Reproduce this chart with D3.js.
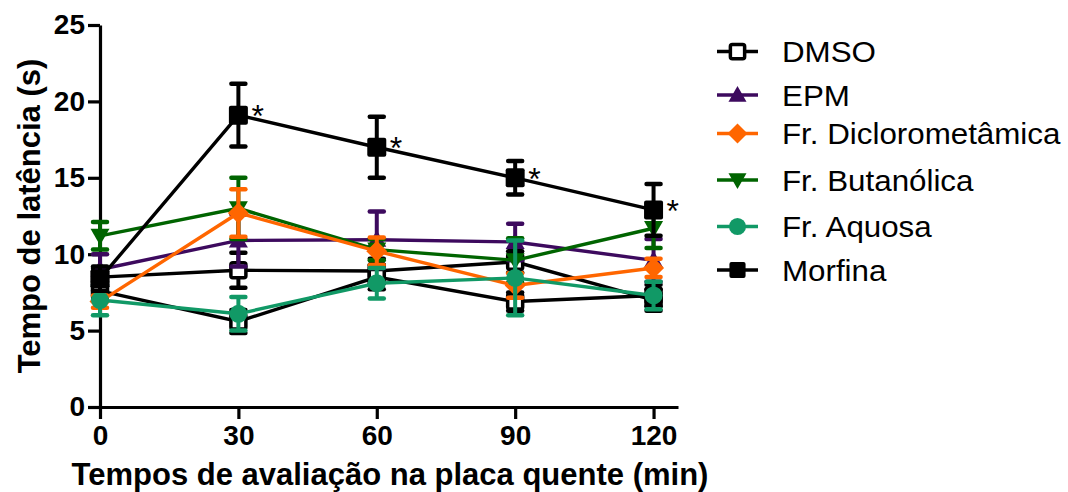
<!DOCTYPE html>
<html>
<head>
<meta charset="utf-8">
<script src="https://cdn.jsdelivr.net/npm/d3@7"></script>
<style>
  html, body { margin: 0; padding: 0; background: #fff; }
  svg { display: block; }
  text { font-family: Arial, "Liberation Sans", sans-serif; }
</style>
</head>
<body>
<svg id="chart" width="1068" height="492"></svg>
<script>
// ---- data ----
const times = [0, 30, 60, 90, 120];
const xTickLabels = ["0", "30", "60", "90", "120"];
const yTicks = [0, 5, 10, 15, 20, 25];

const seriesNames = ["DMSO", "EPM", "Fr. Diclorometâmica", "Fr. Butanólica", "Fr. Aquosa", "Morfina"];

const dmsoMean = [8.5, 8.95, 8.9, 9.5, 7.0];
const dmsoErr  = [0.6, 1.15, 0.8, 0.7, 0.7];

const extraMean = [7.6, 5.6, 8.5, 6.9, 7.3];   // unlabelled black series
const extraErr  = [0.6, 0.75, 0.8, 0.6, 0.7];

const epmMean = [9.0, 10.9, 10.95, 10.8, 9.6];
const epmErr  = [1.0, 1.7, 1.85, 1.2, 1.4];

const dicloMean = [6.9, 12.7, 10.2, 7.95, 9.1];
const dicloErr  = [0.4, 1.55, 0.9, 0.8, 0.6];

const butaMean = [11.2, 13.0, 10.3, 9.6, 11.7];
const butaErr  = [0.9, 2.0, 0.7, 1.45, 1.3];

const aquosaMean = [7.0, 6.1, 8.1, 8.45, 7.3];
const aquosaErr  = [1.0, 1.1, 1.0, 2.45, 0.9];

const morfMean = [8.4, 19.1, 17.0, 15.0, 12.9];
const morfErr  = [0.8, 2.05, 2.0, 1.1, 1.7];
const morfSig  = [false, true, true, true, true];

const colors = {
  black: "#000000",
  purple: "#3d0a5e",
  orange: "#ff6600",
  green: "#006400",
  teal: "#119966"
};

// draw order (back to front)
const series = [
  { name: "DMSO", mean: dmsoMean, err: dmsoErr, color: colors.black, marker: "openSquare", legend: true },
  { name: null, mean: extraMean, err: extraErr, color: colors.black, marker: "openSquare", legend: false },
  { name: "EPM", mean: epmMean, err: epmErr, color: colors.purple, marker: "triUp", legend: true },
  { name: "Fr. Butanólica", mean: butaMean, err: butaErr, color: colors.green, marker: "triDown", legend: true },
  { name: "Fr. Diclorometâmica", mean: dicloMean, err: dicloErr, color: colors.orange, marker: "diamond", legend: true },
  { name: "Fr. Aquosa", mean: aquosaMean, err: aquosaErr, color: colors.teal, marker: "circle", legend: true },
  { name: "Morfina", mean: morfMean, err: morfErr, color: colors.black, marker: "square", legend: true }
];

const svg = d3.select("#chart");

const x = d3.scaleLinear().domain([0, 125.3]).range([100, 678]);
const y = d3.scaleLinear().domain([0, 25]).range([407, 25]);

// ---- axes ----
const yAxis = d3.axisLeft(y).tickValues(yTicks).tickSize(12).tickSizeOuter(0).tickPadding(3);
const gy = svg.append("g").attr("transform", "translate(100,0)").call(yAxis);
gy.select(".domain").attr("stroke", "#000").attr("stroke-width", 3.2);
gy.selectAll(".tick line").attr("stroke", "#000").attr("stroke-width", 3.2);
gy.selectAll(".tick text").attr("fill", "#000").attr("font-size", 28).attr("font-weight", "bold")
  .attr("font-family", "Arial, 'Liberation Sans', sans-serif");

const xAxis = d3.axisBottom(x).tickValues(times).tickFormat((d, i) => xTickLabels[i]).tickSize(12).tickSizeOuter(0).tickPadding(6);
const gx = svg.append("g").attr("transform", "translate(0,407)").call(xAxis);
gx.select(".domain").attr("stroke", "#000").attr("stroke-width", 3.2);
gx.selectAll(".tick line").attr("stroke", "#000").attr("stroke-width", 3.2);
gx.selectAll(".tick text").attr("fill", "#000").attr("font-size", 28).attr("font-weight", "bold")
  .attr("font-family", "Arial, 'Liberation Sans', sans-serif");

// axis titles
svg.append("text")
  .attr("x", 390).attr("y", 485)
  .attr("text-anchor", "middle")
  .attr("font-size", 31).attr("font-weight", "bold")
  .text("Tempos de avaliação na placa quente (min)");

svg.append("text")
  .attr("transform", "translate(40,216) rotate(-90)")
  .attr("text-anchor", "middle")
  .attr("font-size", 31).attr("font-weight", "bold")
  .text("Tempo de latência (s)");

// ---- markers ----
function drawMarker(g, type, cx, cy, color, scale) {
  const s = scale || 1;
  if (type === "square") {
    const h = 9.5 * s;
    g.append("rect").attr("x", cx - h).attr("y", cy - h).attr("width", 2 * h).attr("height", 2 * h)
      .attr("rx", 2).attr("fill", color);
  } else if (type === "openSquare") {
    const h = 7.5 * s;
    g.append("rect").attr("x", cx - h).attr("y", cy - h).attr("width", 2 * h).attr("height", 2 * h)
      .attr("rx", 2).attr("fill", "#fff").attr("stroke", color).attr("stroke-width", 3.5);
  } else if (type === "circle") {
    g.append("circle").attr("cx", cx).attr("cy", cy).attr("r", 9 * s).attr("fill", color);
  } else if (type === "diamond") {
    const h = 10.5 * s;
    g.append("path").attr("d", `M${cx},${cy - h}L${cx + h},${cy}L${cx},${cy + h}L${cx - h},${cy}Z`).attr("fill", color);
  } else if (type === "triUp") {
    const h = 9.5 * s;
    g.append("path").attr("d", `M${cx},${cy - h}L${cx + h},${cy + h * 0.75}L${cx - h},${cy + h * 0.75}Z`).attr("fill", color);
  } else if (type === "triDown") {
    const h = 9.5 * s;
    g.append("path").attr("d", `M${cx},${cy + h}L${cx + h},${cy - h * 0.75}L${cx - h},${cy - h * 0.75}Z`).attr("fill", color);
  }
}

const line = d3.line().x((d, i) => x(times[i])).y(d => y(d));

series.forEach(s => {
  const g = svg.append("g");
  g.append("path").datum(s.mean).attr("d", line)
    .attr("fill", "none").attr("stroke", s.color).attr("stroke-width", 3.4);
  s.mean.forEach((m, i) => {
    const cx = x(times[i]);
    const top = y(m + s.err[i]);
    const bot = y(m - s.err[i]);
    g.append("line").attr("x1", cx).attr("x2", cx).attr("y1", top).attr("y2", bot)
      .attr("stroke", s.color).attr("stroke-width", 4);
    [top, bot].forEach(yy => {
      g.append("line").attr("x1", cx - 7).attr("x2", cx + 7).attr("y1", yy).attr("y2", yy)
        .attr("stroke", s.color).attr("stroke-width", 4.5).attr("stroke-linecap", "round");
    });
  });
  s.mean.forEach((m, i) => drawMarker(g, s.marker, x(times[i]), y(m), s.color));
});

// significance asterisks
morfMean.forEach((m, i) => {
  if (!morfSig[i]) return;
  svg.append("text")
    .attr("x", x(times[i]) + 13).attr("y", y(m) + 12)
    .attr("font-size", 32).attr("fill", "#000")
    .text("*");
});

// ---- legend ----
const legendRowsY = [51.5, 95, 133.5, 180, 226.5, 270];
const legendSeries = series.filter(s => s.legend);
const legendOrder = seriesNames.map(n => legendSeries.find(s => s.name === n));
const lg = svg.append("g");
legendOrder.forEach((s, i) => {
  const yy = legendRowsY[i];
  lg.append("line").attr("x1", 717).attr("x2", 758).attr("y1", yy).attr("y2", yy)
    .attr("stroke", s.color).attr("stroke-width", 3.4);
  drawMarker(lg, s.marker, 737.5, yy, s.color, s.marker === "square" ? 0.85 : 0.95);
  lg.append("text")
    .attr("transform", `translate(782,${yy + 10.5}) scale(1.08,1)`)
    .attr("font-size", 29).attr("fill", "#000")
    .text(s.name);
});
</script>
</body>
</html>
